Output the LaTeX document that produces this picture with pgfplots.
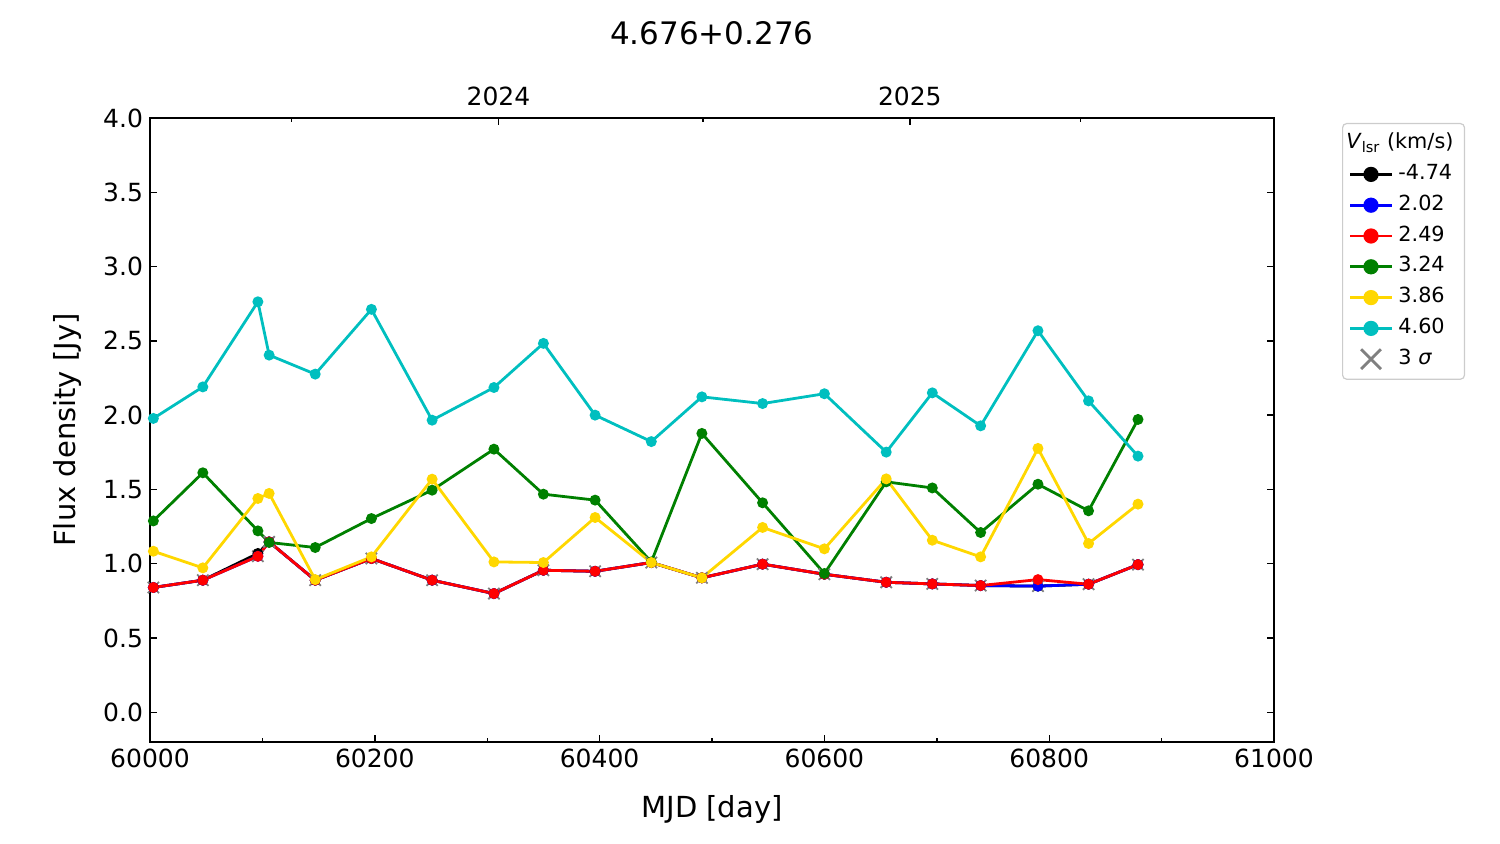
\documentclass[border=0pt]{standalone}
\usepackage{fontspec}
\setmainfont{DejaVu Sans}
\usepackage{pgfplots}
\usepackage{pgfplotstable}
\pgfplotsset{compat=1.18}
\definecolor{mplgreen}{HTML}{008000}
\definecolor{mplgold}{HTML}{FFD700}
\definecolor{mplcyan}{HTML}{00BFBF}
\definecolor{mplgray}{HTML}{808080}

\pgfplotstableread{
mjd    m474  p202  p249  p324  p386  p460  sig
60003  0.840 0.840 0.840 1.288 1.084 1.978 0.840
60047  0.889 0.889 0.889 1.612 0.972 2.190 0.889
60096  1.069 1.050 1.050 1.221 1.439 2.763 1.050
60106  1.147 1.147 1.147 1.143 1.473 2.404 1.147
60147  0.889 0.889 0.889 1.109 0.893 2.276 0.889
60197  1.035 1.035 1.035 1.304 1.046 2.712 1.035
60251  0.889 0.889 0.889 1.495 1.569 1.966 0.889
60306  0.799 0.799 0.799 1.771 1.012 2.186 0.799
60350  0.956 0.956 0.956 1.468 1.008 2.483 0.956
60396  0.949 0.949 0.949 1.428 1.311 2.000 0.949
60446  1.008 1.008 1.008 1.012 1.008 1.822 1.008
60491  0.905 0.905 0.905 1.877 0.905 2.123 0.905
60545  0.997 0.997 0.997 1.410 1.244 2.078 0.997
60600  0.929 0.929 0.929 0.934 1.100 2.144 0.929
60655  0.875 0.875 0.875 1.551 1.571 1.751 0.875
60696  0.864 0.864 0.864 1.510 1.158 2.150 0.864
60739  0.853 0.853 0.853 1.210 1.046 1.928 0.853
60790  0.849 0.849 0.893 1.535 1.776 2.568 0.849
60835  0.862 0.862 0.862 1.356 1.136 2.096 0.862
60879  0.994 0.994 0.994 1.971 1.401 1.724 0.994
}\datatable

\pgfplotsset{
  common/.style={
    at={(0,0)}, anchor=south west, scale only axis,
    width=562pt, height=312pt,
    xmin=60000, xmax=61000, ymin=-0.2, ymax=4.0,
    scaled ticks=false,
    tick align=inside,
    axis line style={line width=0.9pt},
    major tick length=3.5pt, minor tick length=2pt,
    every tick/.style={line width=0.7pt, black},
    tick label style={font=\fontsize{12.5}{15}\selectfont},
    /pgf/number format/assume math mode=true,
  },
  lineplot/.style={line width=1.4pt, mark=*, mark size=2pt, mark options={solid}},
}

\begin{document}
\begin{tikzpicture}
\useasboundingbox (-75pt,-51pt) rectangle (675pt,371pt);
% top (date) axis
\begin{axis}[common,
  axis x line*=top, axis y line=none,
  xtick={60310,60676}, xticklabels={2024,2025},
  minor xtick={60126,60492,60828},
  xticklabel style={yshift=2.5pt},
]
\addplot[draw=none, forget plot] coordinates {(60000,0)};
\end{axis}
% main axis
\begin{axis}[common,
  xtick pos=bottom, ytick pos=both,
  xtick={60000,60200,...,61000}, minor x tick num=1,
  ytick={0,0.5,...,4.0},
  xticklabel style={/pgf/number format/.cd, fixed, set thousands separator={}},
  yticklabel style={/pgf/number format/.cd, fixed, fixed zerofill, precision=1},
  xlabel={MJD [day]}, ylabel={Flux density [Jy]},
  xlabel style={at={(axis description cs:0.5,-0.108)}, anchor=center, font=\fontsize{14.5}{17}\selectfont},
  ylabel style={at={(axis description cs:-0.0738,0.5)}, anchor=center, font=\fontsize{14.5}{17}\selectfont},
  title={4.676+0.276},
  every axis title shift=0pt,
  title style={at={(axis description cs:0.5,1.136)}, anchor=center, yshift=0pt, font=\fontsize{15.5}{18}\selectfont},
  legend cell align=left,
  legend style={at={(axis description cs:1.0605,0.992)}, anchor=north west,
    draw=black!20, rounded corners=2pt, line width=0.6pt,
    font=\fontsize{10.4}{12}\selectfont,
    row sep=1.4pt, inner xsep=3pt, inner ysep=3pt,
    nodes={text height=7.6pt, text depth=2.4pt, inner xsep=2.5pt}},
  legend image code/.code={\draw[mark repeat=2,mark phase=2] plot coordinates {(0pt,0pt)(10.5pt,0pt)(21pt,0pt)};},
]
\addlegendimage{empty legend}
\addlegendentry{\hspace*{-26pt}\textit{V}\textsubscript{lsr} (km/s)}
\addlegendimage{black, line width=1.4pt, mark=*, mark size=3.1pt}
\addlegendentry{-4.74}
\addlegendimage{blue, line width=1.4pt, mark=*, mark size=3.1pt}
\addlegendentry{2.02}
\addlegendimage{red, line width=1.4pt, mark=*, mark size=3.1pt}
\addlegendentry{2.49}
\addlegendimage{mplgreen, line width=1.4pt, mark=*, mark size=3.1pt}
\addlegendentry{3.24}
\addlegendimage{mplgold, line width=1.4pt, mark=*, mark size=3.1pt}
\addlegendentry{3.86}
\addlegendimage{mplcyan, line width=1.4pt, mark=*, mark size=3.1pt}
\addlegendentry{4.60}
\addlegendimage{only marks, mark=x, mark size=7pt, mplgray, mark options={line width=1.4pt}}
\addlegendentry{3 \textit{σ}}

\addplot[only marks, mark=x, mark size=4pt, mplgray, mark options={line width=0.9pt}, forget plot] table[x=mjd, y=sig] {\datatable};
\addplot[lineplot, black, forget plot] table[x=mjd, y=m474] {\datatable};
\addplot[lineplot, blue, forget plot] table[x=mjd, y=p202] {\datatable};
\addplot[lineplot, red, forget plot] table[x=mjd, y=p249] {\datatable};
\addplot[lineplot, mplgreen, forget plot] table[x=mjd, y=p324] {\datatable};
\addplot[lineplot, mplgold, forget plot] table[x=mjd, y=p386] {\datatable};
\addplot[lineplot, mplcyan, forget plot] table[x=mjd, y=p460] {\datatable};
\end{axis}
\end{tikzpicture}
\end{document}
